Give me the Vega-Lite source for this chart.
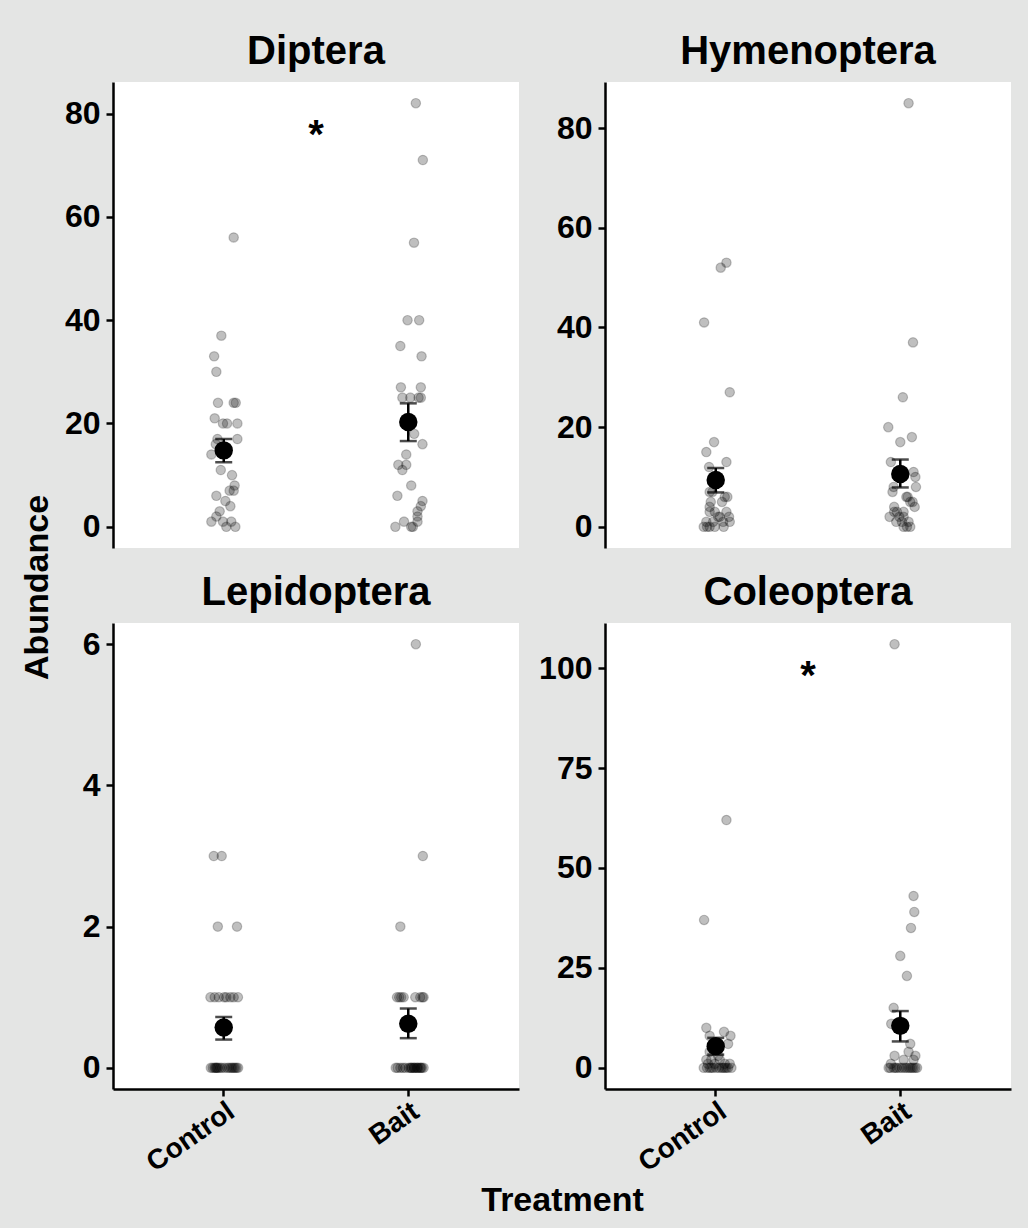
{
"$schema": "https://vega.github.io/schema/vega-lite/v6.json",
"background": "#e4e5e4",
"padding": {"left": 21, "top": 32, "right": 18, "bottom": 16},
"title": {"text": "Abundance", "orient": "left", "anchor": "middle", "fontSize": 34, "offset": 9, "dx": 37},
"datasets": {
"obs": [
{"taxon":"Diptera","treatment":"Control","abundance":56,"jitter":0.054},
{"taxon":"Diptera","treatment":"Control","abundance":37,"jitter":-0.013},
{"taxon":"Diptera","treatment":"Control","abundance":33,"jitter":-0.052},
{"taxon":"Diptera","treatment":"Control","abundance":30,"jitter":-0.040},
{"taxon":"Diptera","treatment":"Control","abundance":24,"jitter":-0.031},
{"taxon":"Diptera","treatment":"Control","abundance":24,"jitter":0.054},
{"taxon":"Diptera","treatment":"Control","abundance":24,"jitter":0.065},
{"taxon":"Diptera","treatment":"Control","abundance":21,"jitter":-0.049},
{"taxon":"Diptera","treatment":"Control","abundance":20,"jitter":-0.004},
{"taxon":"Diptera","treatment":"Control","abundance":20,"jitter":0.018},
{"taxon":"Diptera","treatment":"Control","abundance":20,"jitter":0.074},
{"taxon":"Diptera","treatment":"Control","abundance":17,"jitter":0.074},
{"taxon":"Diptera","treatment":"Control","abundance":17,"jitter":-0.034},
{"taxon":"Diptera","treatment":"Control","abundance":16,"jitter":-0.043},
{"taxon":"Diptera","treatment":"Control","abundance":14,"jitter":-0.067},
{"taxon":"Diptera","treatment":"Control","abundance":11,"jitter":-0.016},
{"taxon":"Diptera","treatment":"Control","abundance":10,"jitter":0.045},
{"taxon":"Diptera","treatment":"Control","abundance":8,"jitter":0.059},
{"taxon":"Diptera","treatment":"Control","abundance":7,"jitter":0.032},
{"taxon":"Diptera","treatment":"Control","abundance":7,"jitter":0.054},
{"taxon":"Diptera","treatment":"Control","abundance":6,"jitter":-0.040},
{"taxon":"Diptera","treatment":"Control","abundance":5,"jitter":0.009},
{"taxon":"Diptera","treatment":"Control","abundance":4,"jitter":0.036},
{"taxon":"Diptera","treatment":"Control","abundance":3,"jitter":-0.022},
{"taxon":"Diptera","treatment":"Control","abundance":2,"jitter":-0.040},
{"taxon":"Diptera","treatment":"Control","abundance":1,"jitter":-0.067},
{"taxon":"Diptera","treatment":"Control","abundance":1,"jitter":-0.004},
{"taxon":"Diptera","treatment":"Control","abundance":1,"jitter":0.041},
{"taxon":"Diptera","treatment":"Control","abundance":0,"jitter":0.014},
{"taxon":"Diptera","treatment":"Control","abundance":0,"jitter":0.063},
{"taxon":"Diptera","treatment":"Bait","abundance":82,"jitter":0.041},
{"taxon":"Diptera","treatment":"Bait","abundance":71,"jitter":0.079},
{"taxon":"Diptera","treatment":"Bait","abundance":55,"jitter":0.031},
{"taxon":"Diptera","treatment":"Bait","abundance":40,"jitter":-0.004},
{"taxon":"Diptera","treatment":"Bait","abundance":40,"jitter":0.059},
{"taxon":"Diptera","treatment":"Bait","abundance":35,"jitter":-0.043},
{"taxon":"Diptera","treatment":"Bait","abundance":33,"jitter":0.072},
{"taxon":"Diptera","treatment":"Bait","abundance":27,"jitter":-0.040},
{"taxon":"Diptera","treatment":"Bait","abundance":27,"jitter":0.068},
{"taxon":"Diptera","treatment":"Bait","abundance":25,"jitter":-0.032},
{"taxon":"Diptera","treatment":"Bait","abundance":25,"jitter":0.011},
{"taxon":"Diptera","treatment":"Bait","abundance":25,"jitter":0.056},
{"taxon":"Diptera","treatment":"Bait","abundance":25,"jitter":0.068},
{"taxon":"Diptera","treatment":"Bait","abundance":18,"jitter":0.032},
{"taxon":"Diptera","treatment":"Bait","abundance":16,"jitter":0.077},
{"taxon":"Diptera","treatment":"Bait","abundance":14,"jitter":-0.011},
{"taxon":"Diptera","treatment":"Bait","abundance":12,"jitter":-0.054},
{"taxon":"Diptera","treatment":"Bait","abundance":12,"jitter":-0.011},
{"taxon":"Diptera","treatment":"Bait","abundance":11,"jitter":-0.032},
{"taxon":"Diptera","treatment":"Bait","abundance":8,"jitter":0.016},
{"taxon":"Diptera","treatment":"Bait","abundance":6,"jitter":-0.059},
{"taxon":"Diptera","treatment":"Bait","abundance":5,"jitter":0.077},
{"taxon":"Diptera","treatment":"Bait","abundance":4,"jitter":0.068},
{"taxon":"Diptera","treatment":"Bait","abundance":3,"jitter":0.050},
{"taxon":"Diptera","treatment":"Bait","abundance":2,"jitter":0.050},
{"taxon":"Diptera","treatment":"Bait","abundance":1,"jitter":-0.023},
{"taxon":"Diptera","treatment":"Bait","abundance":1,"jitter":0.050},
{"taxon":"Diptera","treatment":"Bait","abundance":0,"jitter":-0.070},
{"taxon":"Diptera","treatment":"Bait","abundance":0,"jitter":0.016},
{"taxon":"Diptera","treatment":"Bait","abundance":0,"jitter":0.025},
{"taxon":"Hymenoptera","treatment":"Control","abundance":53,"jitter":0.058},
{"taxon":"Hymenoptera","treatment":"Control","abundance":52,"jitter":0.027},
{"taxon":"Hymenoptera","treatment":"Control","abundance":41,"jitter":-0.063},
{"taxon":"Hymenoptera","treatment":"Control","abundance":27,"jitter":0.076},
{"taxon":"Hymenoptera","treatment":"Control","abundance":17,"jitter":-0.009},
{"taxon":"Hymenoptera","treatment":"Control","abundance":15,"jitter":-0.051},
{"taxon":"Hymenoptera","treatment":"Control","abundance":13,"jitter":0.058},
{"taxon":"Hymenoptera","treatment":"Control","abundance":12,"jitter":-0.036},
{"taxon":"Hymenoptera","treatment":"Control","abundance":7,"jitter":-0.033},
{"taxon":"Hymenoptera","treatment":"Control","abundance":7,"jitter":-0.018},
{"taxon":"Hymenoptera","treatment":"Control","abundance":6,"jitter":0.049},
{"taxon":"Hymenoptera","treatment":"Control","abundance":6,"jitter":0.063},
{"taxon":"Hymenoptera","treatment":"Control","abundance":5,"jitter":0.034},
{"taxon":"Hymenoptera","treatment":"Control","abundance":5,"jitter":-0.027},
{"taxon":"Hymenoptera","treatment":"Control","abundance":4,"jitter":-0.033},
{"taxon":"Hymenoptera","treatment":"Control","abundance":3,"jitter":-0.033},
{"taxon":"Hymenoptera","treatment":"Control","abundance":3,"jitter":-0.005},
{"taxon":"Hymenoptera","treatment":"Control","abundance":3,"jitter":0.058},
{"taxon":"Hymenoptera","treatment":"Control","abundance":2,"jitter":0.013},
{"taxon":"Hymenoptera","treatment":"Control","abundance":2,"jitter":0.072},
{"taxon":"Hymenoptera","treatment":"Control","abundance":2,"jitter":0.022},
{"taxon":"Hymenoptera","treatment":"Control","abundance":1,"jitter":-0.051},
{"taxon":"Hymenoptera","treatment":"Control","abundance":1,"jitter":0.076},
{"taxon":"Hymenoptera","treatment":"Control","abundance":1,"jitter":-0.014},
{"taxon":"Hymenoptera","treatment":"Control","abundance":1,"jitter":0.040},
{"taxon":"Hymenoptera","treatment":"Control","abundance":0,"jitter":-0.065},
{"taxon":"Hymenoptera","treatment":"Control","abundance":0,"jitter":-0.033},
{"taxon":"Hymenoptera","treatment":"Control","abundance":0,"jitter":-0.005},
{"taxon":"Hymenoptera","treatment":"Control","abundance":0,"jitter":0.043},
{"taxon":"Hymenoptera","treatment":"Control","abundance":0,"jitter":-0.047},
{"taxon":"Hymenoptera","treatment":"Bait","abundance":85,"jitter":0.045},
{"taxon":"Hymenoptera","treatment":"Bait","abundance":37,"jitter":0.069},
{"taxon":"Hymenoptera","treatment":"Bait","abundance":26,"jitter":0.014},
{"taxon":"Hymenoptera","treatment":"Bait","abundance":20,"jitter":-0.065},
{"taxon":"Hymenoptera","treatment":"Bait","abundance":18,"jitter":0.063},
{"taxon":"Hymenoptera","treatment":"Bait","abundance":17,"jitter":0.000},
{"taxon":"Hymenoptera","treatment":"Bait","abundance":13,"jitter":-0.051},
{"taxon":"Hymenoptera","treatment":"Bait","abundance":11,"jitter":0.072},
{"taxon":"Hymenoptera","treatment":"Bait","abundance":10,"jitter":0.082},
{"taxon":"Hymenoptera","treatment":"Bait","abundance":8,"jitter":-0.036},
{"taxon":"Hymenoptera","treatment":"Bait","abundance":8,"jitter":0.085},
{"taxon":"Hymenoptera","treatment":"Bait","abundance":7,"jitter":-0.042},
{"taxon":"Hymenoptera","treatment":"Bait","abundance":6,"jitter":0.033},
{"taxon":"Hymenoptera","treatment":"Bait","abundance":6,"jitter":0.040},
{"taxon":"Hymenoptera","treatment":"Bait","abundance":5,"jitter":0.054},
{"taxon":"Hymenoptera","treatment":"Bait","abundance":5,"jitter":0.067},
{"taxon":"Hymenoptera","treatment":"Bait","abundance":4,"jitter":0.078},
{"taxon":"Hymenoptera","treatment":"Bait","abundance":4,"jitter":-0.033},
{"taxon":"Hymenoptera","treatment":"Bait","abundance":3,"jitter":-0.018},
{"taxon":"Hymenoptera","treatment":"Bait","abundance":3,"jitter":0.018},
{"taxon":"Hymenoptera","treatment":"Bait","abundance":3,"jitter":-0.033},
{"taxon":"Hymenoptera","treatment":"Bait","abundance":2,"jitter":-0.058},
{"taxon":"Hymenoptera","treatment":"Bait","abundance":2,"jitter":0.018},
{"taxon":"Hymenoptera","treatment":"Bait","abundance":2,"jitter":-0.005},
{"taxon":"Hymenoptera","treatment":"Bait","abundance":1,"jitter":-0.022},
{"taxon":"Hymenoptera","treatment":"Bait","abundance":1,"jitter":0.045},
{"taxon":"Hymenoptera","treatment":"Bait","abundance":1,"jitter":0.009},
{"taxon":"Hymenoptera","treatment":"Bait","abundance":0,"jitter":0.018},
{"taxon":"Hymenoptera","treatment":"Bait","abundance":0,"jitter":0.054},
{"taxon":"Hymenoptera","treatment":"Bait","abundance":0,"jitter":0.036},
{"taxon":"Lepidoptera","treatment":"Control","abundance":3,"jitter":-0.054},
{"taxon":"Lepidoptera","treatment":"Control","abundance":3,"jitter":-0.011},
{"taxon":"Lepidoptera","treatment":"Control","abundance":2,"jitter":-0.032},
{"taxon":"Lepidoptera","treatment":"Control","abundance":2,"jitter":0.072},
{"taxon":"Lepidoptera","treatment":"Control","abundance":1,"jitter":-0.072},
{"taxon":"Lepidoptera","treatment":"Control","abundance":1,"jitter":-0.049},
{"taxon":"Lepidoptera","treatment":"Control","abundance":1,"jitter":-0.027},
{"taxon":"Lepidoptera","treatment":"Control","abundance":1,"jitter":0.002},
{"taxon":"Lepidoptera","treatment":"Control","abundance":1,"jitter":0.014},
{"taxon":"Lepidoptera","treatment":"Control","abundance":1,"jitter":0.036},
{"taxon":"Lepidoptera","treatment":"Control","abundance":1,"jitter":0.054},
{"taxon":"Lepidoptera","treatment":"Control","abundance":1,"jitter":0.077},
{"taxon":"Lepidoptera","treatment":"Control","abundance":0,"jitter":-0.070},
{"taxon":"Lepidoptera","treatment":"Control","abundance":0,"jitter":-0.060},
{"taxon":"Lepidoptera","treatment":"Control","abundance":0,"jitter":-0.050},
{"taxon":"Lepidoptera","treatment":"Control","abundance":0,"jitter":-0.045},
{"taxon":"Lepidoptera","treatment":"Control","abundance":0,"jitter":-0.040},
{"taxon":"Lepidoptera","treatment":"Control","abundance":0,"jitter":-0.036},
{"taxon":"Lepidoptera","treatment":"Control","abundance":0,"jitter":-0.030},
{"taxon":"Lepidoptera","treatment":"Control","abundance":0,"jitter":-0.020},
{"taxon":"Lepidoptera","treatment":"Control","abundance":0,"jitter":-0.010},
{"taxon":"Lepidoptera","treatment":"Control","abundance":0,"jitter":0.005},
{"taxon":"Lepidoptera","treatment":"Control","abundance":0,"jitter":0.020},
{"taxon":"Lepidoptera","treatment":"Control","abundance":0,"jitter":0.030},
{"taxon":"Lepidoptera","treatment":"Control","abundance":0,"jitter":0.040},
{"taxon":"Lepidoptera","treatment":"Control","abundance":0,"jitter":0.047},
{"taxon":"Lepidoptera","treatment":"Control","abundance":0,"jitter":0.055},
{"taxon":"Lepidoptera","treatment":"Control","abundance":0,"jitter":0.062},
{"taxon":"Lepidoptera","treatment":"Control","abundance":0,"jitter":0.070},
{"taxon":"Lepidoptera","treatment":"Control","abundance":0,"jitter":0.078},
{"taxon":"Lepidoptera","treatment":"Bait","abundance":6,"jitter":0.041},
{"taxon":"Lepidoptera","treatment":"Bait","abundance":3,"jitter":0.079},
{"taxon":"Lepidoptera","treatment":"Bait","abundance":2,"jitter":-0.043},
{"taxon":"Lepidoptera","treatment":"Bait","abundance":1,"jitter":-0.061},
{"taxon":"Lepidoptera","treatment":"Bait","abundance":1,"jitter":-0.049},
{"taxon":"Lepidoptera","treatment":"Bait","abundance":1,"jitter":-0.038},
{"taxon":"Lepidoptera","treatment":"Bait","abundance":1,"jitter":-0.025},
{"taxon":"Lepidoptera","treatment":"Bait","abundance":1,"jitter":0.038},
{"taxon":"Lepidoptera","treatment":"Bait","abundance":1,"jitter":0.065},
{"taxon":"Lepidoptera","treatment":"Bait","abundance":1,"jitter":0.077},
{"taxon":"Lepidoptera","treatment":"Bait","abundance":1,"jitter":0.083},
{"taxon":"Lepidoptera","treatment":"Bait","abundance":0,"jitter":-0.068},
{"taxon":"Lepidoptera","treatment":"Bait","abundance":0,"jitter":-0.058},
{"taxon":"Lepidoptera","treatment":"Bait","abundance":0,"jitter":-0.043},
{"taxon":"Lepidoptera","treatment":"Bait","abundance":0,"jitter":-0.029},
{"taxon":"Lepidoptera","treatment":"Bait","abundance":0,"jitter":-0.016},
{"taxon":"Lepidoptera","treatment":"Bait","abundance":0,"jitter":0.002},
{"taxon":"Lepidoptera","treatment":"Bait","abundance":0,"jitter":0.011},
{"taxon":"Lepidoptera","treatment":"Bait","abundance":0,"jitter":0.020},
{"taxon":"Lepidoptera","treatment":"Bait","abundance":0,"jitter":0.029},
{"taxon":"Lepidoptera","treatment":"Bait","abundance":0,"jitter":0.038},
{"taxon":"Lepidoptera","treatment":"Bait","abundance":0,"jitter":0.047},
{"taxon":"Lepidoptera","treatment":"Bait","abundance":0,"jitter":0.056},
{"taxon":"Lepidoptera","treatment":"Bait","abundance":0,"jitter":0.065},
{"taxon":"Lepidoptera","treatment":"Bait","abundance":0,"jitter":0.074},
{"taxon":"Lepidoptera","treatment":"Bait","abundance":0,"jitter":0.083},
{"taxon":"Lepidoptera","treatment":"Bait","abundance":0,"jitter":0.016},
{"taxon":"Lepidoptera","treatment":"Bait","abundance":0,"jitter":0.032},
{"taxon":"Lepidoptera","treatment":"Bait","abundance":0,"jitter":0.050},
{"taxon":"Lepidoptera","treatment":"Bait","abundance":0,"jitter":0.068},
{"taxon":"Coleoptera","treatment":"Control","abundance":62,"jitter":0.058},
{"taxon":"Coleoptera","treatment":"Control","abundance":37,"jitter":-0.063},
{"taxon":"Coleoptera","treatment":"Control","abundance":10,"jitter":-0.051},
{"taxon":"Coleoptera","treatment":"Control","abundance":9,"jitter":0.045},
{"taxon":"Coleoptera","treatment":"Control","abundance":8,"jitter":0.080},
{"taxon":"Coleoptera","treatment":"Control","abundance":8,"jitter":-0.033},
{"taxon":"Coleoptera","treatment":"Control","abundance":6,"jitter":0.067},
{"taxon":"Coleoptera","treatment":"Control","abundance":4,"jitter":-0.033},
{"taxon":"Coleoptera","treatment":"Control","abundance":3,"jitter":0.013},
{"taxon":"Coleoptera","treatment":"Control","abundance":2,"jitter":-0.051},
{"taxon":"Coleoptera","treatment":"Control","abundance":2,"jitter":-0.024},
{"taxon":"Coleoptera","treatment":"Control","abundance":2,"jitter":0.022},
{"taxon":"Coleoptera","treatment":"Control","abundance":1,"jitter":0.076},
{"taxon":"Coleoptera","treatment":"Control","abundance":1,"jitter":-0.005},
{"taxon":"Coleoptera","treatment":"Control","abundance":1,"jitter":-0.042},
{"taxon":"Coleoptera","treatment":"Control","abundance":1,"jitter":0.049},
{"taxon":"Coleoptera","treatment":"Control","abundance":0,"jitter":-0.065},
{"taxon":"Coleoptera","treatment":"Control","abundance":0,"jitter":-0.047},
{"taxon":"Coleoptera","treatment":"Control","abundance":0,"jitter":-0.033},
{"taxon":"Coleoptera","treatment":"Control","abundance":0,"jitter":-0.014},
{"taxon":"Coleoptera","treatment":"Control","abundance":0,"jitter":0.004},
{"taxon":"Coleoptera","treatment":"Control","abundance":0,"jitter":0.018},
{"taxon":"Coleoptera","treatment":"Control","abundance":0,"jitter":0.031},
{"taxon":"Coleoptera","treatment":"Control","abundance":0,"jitter":0.049},
{"taxon":"Coleoptera","treatment":"Control","abundance":0,"jitter":0.067},
{"taxon":"Coleoptera","treatment":"Control","abundance":0,"jitter":0.085},
{"taxon":"Coleoptera","treatment":"Control","abundance":0,"jitter":-0.024},
{"taxon":"Coleoptera","treatment":"Control","abundance":0,"jitter":0.040},
{"taxon":"Coleoptera","treatment":"Control","abundance":0,"jitter":0.058},
{"taxon":"Coleoptera","treatment":"Bait","abundance":106,"jitter":-0.031},
{"taxon":"Coleoptera","treatment":"Bait","abundance":43,"jitter":0.072},
{"taxon":"Coleoptera","treatment":"Bait","abundance":39,"jitter":0.076},
{"taxon":"Coleoptera","treatment":"Bait","abundance":35,"jitter":0.058},
{"taxon":"Coleoptera","treatment":"Bait","abundance":28,"jitter":0.000},
{"taxon":"Coleoptera","treatment":"Bait","abundance":23,"jitter":0.036},
{"taxon":"Coleoptera","treatment":"Bait","abundance":15,"jitter":-0.036},
{"taxon":"Coleoptera","treatment":"Bait","abundance":11,"jitter":-0.049},
{"taxon":"Coleoptera","treatment":"Bait","abundance":6,"jitter":0.054},
{"taxon":"Coleoptera","treatment":"Bait","abundance":4,"jitter":0.045},
{"taxon":"Coleoptera","treatment":"Bait","abundance":3,"jitter":-0.031},
{"taxon":"Coleoptera","treatment":"Bait","abundance":3,"jitter":0.082},
{"taxon":"Coleoptera","treatment":"Bait","abundance":2,"jitter":0.018},
{"taxon":"Coleoptera","treatment":"Bait","abundance":2,"jitter":0.072},
{"taxon":"Coleoptera","treatment":"Bait","abundance":1,"jitter":-0.051},
{"taxon":"Coleoptera","treatment":"Bait","abundance":0,"jitter":-0.063},
{"taxon":"Coleoptera","treatment":"Bait","abundance":0,"jitter":-0.036},
{"taxon":"Coleoptera","treatment":"Bait","abundance":0,"jitter":-0.018},
{"taxon":"Coleoptera","treatment":"Bait","abundance":0,"jitter":-0.004},
{"taxon":"Coleoptera","treatment":"Bait","abundance":0,"jitter":0.009},
{"taxon":"Coleoptera","treatment":"Bait","abundance":0,"jitter":0.022},
{"taxon":"Coleoptera","treatment":"Bait","abundance":0,"jitter":0.033},
{"taxon":"Coleoptera","treatment":"Bait","abundance":0,"jitter":0.045},
{"taxon":"Coleoptera","treatment":"Bait","abundance":0,"jitter":0.063},
{"taxon":"Coleoptera","treatment":"Bait","abundance":0,"jitter":0.082},
{"taxon":"Coleoptera","treatment":"Bait","abundance":0,"jitter":-0.054},
{"taxon":"Coleoptera","treatment":"Bait","abundance":0,"jitter":-0.027},
{"taxon":"Coleoptera","treatment":"Bait","abundance":0,"jitter":0.054},
{"taxon":"Coleoptera","treatment":"Bait","abundance":0,"jitter":0.072},
{"taxon":"Coleoptera","treatment":"Bait","abundance":0,"jitter":0.091}
],
"summ": [
{"taxon":"Diptera","treatment":"Control","mean":14.8,"lo":12.5,"hi":17.0},
{"taxon":"Diptera","treatment":"Bait","mean":20.3,"lo":16.6,"hi":23.9},
{"taxon":"Hymenoptera","treatment":"Control","mean":9.4,"lo":6.9,"hi":11.8},
{"taxon":"Hymenoptera","treatment":"Bait","mean":10.6,"lo":7.9,"hi":13.5},
{"taxon":"Lepidoptera","treatment":"Control","mean":0.57,"lo":0.40,"hi":0.72},
{"taxon":"Lepidoptera","treatment":"Bait","mean":0.625,"lo":0.42,"hi":0.84},
{"taxon":"Coleoptera","treatment":"Control","mean":5.4,"lo":3.3,"hi":7.5},
{"taxon":"Coleoptera","treatment":"Bait","mean":10.5,"lo":6.6,"hi":14.2}
],
"sig": [
{"taxon":"Diptera","treatment":"Control","y":77,"offset":0.5,"label":"*"},
{"taxon":"Coleoptera","treatment":"Control","y":99.5,"offset":0.5,"label":"*"}
]
},
"concat": [
{
"title": "Diptera",
"width": 406, "height": 466,
"layer": [
{"data": {"name": "obs"}, "transform": [{"filter": "datum.taxon === 'Diptera'"}],
 "mark": {"type": "point", "filled": true, "fill": "#000", "fillOpacity": 0.25, "stroke": "#000", "strokeOpacity": 0.22, "strokeWidth": 1.2, "size": 88},
 "encoding": {
  "x": {"field": "treatment", "type": "nominal", "sort": ["Control", "Bait"], "scale": {"type": "band", "paddingInner": 1, "paddingOuter": 0.6}, "axis": null},
  "xOffset": {"field": "jitter", "type": "quantitative", "scale": {"domain": [-1, 1], "range": [-184.5, 184.5]}},
  "y": {"field": "abundance", "type": "quantitative", "scale": {"domain": [-4.1, 86.1], "nice": false, "zero": false}, "axis": {"values": [0, 20, 40, 60, 80], "format": "d", "title": null}}
 }},
{"data": {"name": "summ"}, "transform": [{"filter": "datum.taxon === 'Diptera'"}],
 "mark": {"type": "rule", "color": "#000", "strokeWidth": 2.5},
 "encoding": {"x": {"field": "treatment", "type": "nominal", "sort": ["Control", "Bait"]}, "y": {"field": "lo", "type": "quantitative"}, "y2": {"field": "hi"}}},
{"data": {"name": "summ"}, "transform": [{"filter": "datum.taxon === 'Diptera'"}],
 "mark": {"type": "tick", "color": "#000", "thickness": 2.5, "size": 17},
 "encoding": {"x": {"field": "treatment", "type": "nominal", "sort": ["Control", "Bait"]}, "y": {"field": "lo", "type": "quantitative"}}},
{"data": {"name": "summ"}, "transform": [{"filter": "datum.taxon === 'Diptera'"}],
 "mark": {"type": "tick", "color": "#000", "thickness": 2.5, "size": 17},
 "encoding": {"x": {"field": "treatment", "type": "nominal", "sort": ["Control", "Bait"]}, "y": {"field": "hi", "type": "quantitative"}}},
{"data": {"name": "summ"}, "transform": [{"filter": "datum.taxon === 'Diptera'"}],
 "mark": {"type": "point", "filled": true, "color": "#000", "opacity": 1, "size": 340},
 "encoding": {"x": {"field": "treatment", "type": "nominal", "sort": ["Control", "Bait"]}, "y": {"field": "mean", "type": "quantitative"}}},
{"data": {"name": "sig"}, "transform": [{"filter": "datum.taxon === 'Diptera'"}],
 "mark": {"type": "text", "font": "Liberation Sans", "fontWeight": "bold", "fontSize": 40, "color": "#000", "baseline": "middle", "dy": 7},
 "encoding": {"x": {"field": "treatment", "type": "nominal", "sort": ["Control", "Bait"]}, "xOffset": {"field": "offset", "type": "quantitative"}, "y": {"field": "y", "type": "quantitative"}, "text": {"field": "label"}}}
]
},
{
"title": "Hymenoptera",
"width": 406, "height": 466,
"layer": [
{"data": {"name": "obs"}, "transform": [{"filter": "datum.taxon === 'Hymenoptera'"}],
 "mark": {"type": "point", "filled": true, "fill": "#000", "fillOpacity": 0.25, "stroke": "#000", "strokeOpacity": 0.22, "strokeWidth": 1.2, "size": 88},
 "encoding": {
  "x": {"field": "treatment", "type": "nominal", "sort": ["Control", "Bait"], "scale": {"type": "band", "paddingInner": 1, "paddingOuter": 0.6}, "axis": null},
  "xOffset": {"field": "jitter", "type": "quantitative", "scale": {"domain": [-1, 1], "range": [-184.5, 184.5]}},
  "y": {"field": "abundance", "type": "quantitative", "scale": {"domain": [-4.25, 89.25], "nice": false, "zero": false}, "axis": {"values": [0, 20, 40, 60, 80], "format": "d", "title": null}}
 }},
{"data": {"name": "summ"}, "transform": [{"filter": "datum.taxon === 'Hymenoptera'"}],
 "mark": {"type": "rule", "color": "#000", "strokeWidth": 2.5},
 "encoding": {"x": {"field": "treatment", "type": "nominal", "sort": ["Control", "Bait"]}, "y": {"field": "lo", "type": "quantitative"}, "y2": {"field": "hi"}}},
{"data": {"name": "summ"}, "transform": [{"filter": "datum.taxon === 'Hymenoptera'"}],
 "mark": {"type": "tick", "color": "#000", "thickness": 2.5, "size": 17},
 "encoding": {"x": {"field": "treatment", "type": "nominal", "sort": ["Control", "Bait"]}, "y": {"field": "lo", "type": "quantitative"}}},
{"data": {"name": "summ"}, "transform": [{"filter": "datum.taxon === 'Hymenoptera'"}],
 "mark": {"type": "tick", "color": "#000", "thickness": 2.5, "size": 17},
 "encoding": {"x": {"field": "treatment", "type": "nominal", "sort": ["Control", "Bait"]}, "y": {"field": "hi", "type": "quantitative"}}},
{"data": {"name": "summ"}, "transform": [{"filter": "datum.taxon === 'Hymenoptera'"}],
 "mark": {"type": "point", "filled": true, "color": "#000", "opacity": 1, "size": 340},
 "encoding": {"x": {"field": "treatment", "type": "nominal", "sort": ["Control", "Bait"]}, "y": {"field": "mean", "type": "quantitative"}}}
]
},
{
"title": "Lepidoptera",
"width": 406, "height": 466,
"layer": [
{"data": {"name": "obs"}, "transform": [{"filter": "datum.taxon === 'Lepidoptera'"}],
 "mark": {"type": "point", "filled": true, "fill": "#000", "fillOpacity": 0.25, "stroke": "#000", "strokeOpacity": 0.22, "strokeWidth": 1.2, "size": 88},
 "encoding": {
  "x": {"field": "treatment", "type": "nominal", "sort": ["Control", "Bait"], "scale": {"type": "band", "paddingInner": 1, "paddingOuter": 0.6}, "axis": {"labelAngle": -35, "labelAlign": "right", "labelBaseline": "top", "labelFontSize": 28, "labelPadding": 1, "title": "Treatment", "titleX": 449, "titlePadding": 6}},
  "xOffset": {"field": "jitter", "type": "quantitative", "scale": {"domain": [-1, 1], "range": [-184.5, 184.5]}},
  "y": {"field": "abundance", "type": "quantitative", "scale": {"domain": [-0.3, 6.3], "nice": false, "zero": false}, "axis": {"values": [0, 2, 4, 6], "format": "d", "title": null}}
 }},
{"data": {"name": "summ"}, "transform": [{"filter": "datum.taxon === 'Lepidoptera'"}],
 "mark": {"type": "rule", "color": "#000", "strokeWidth": 2.5},
 "encoding": {"x": {"field": "treatment", "type": "nominal", "sort": ["Control", "Bait"]}, "y": {"field": "lo", "type": "quantitative"}, "y2": {"field": "hi"}}},
{"data": {"name": "summ"}, "transform": [{"filter": "datum.taxon === 'Lepidoptera'"}],
 "mark": {"type": "tick", "color": "#000", "thickness": 2.5, "size": 17},
 "encoding": {"x": {"field": "treatment", "type": "nominal", "sort": ["Control", "Bait"]}, "y": {"field": "lo", "type": "quantitative"}}},
{"data": {"name": "summ"}, "transform": [{"filter": "datum.taxon === 'Lepidoptera'"}],
 "mark": {"type": "tick", "color": "#000", "thickness": 2.5, "size": 17},
 "encoding": {"x": {"field": "treatment", "type": "nominal", "sort": ["Control", "Bait"]}, "y": {"field": "hi", "type": "quantitative"}}},
{"data": {"name": "summ"}, "transform": [{"filter": "datum.taxon === 'Lepidoptera'"}],
 "mark": {"type": "point", "filled": true, "color": "#000", "opacity": 1, "size": 340},
 "encoding": {"x": {"field": "treatment", "type": "nominal", "sort": ["Control", "Bait"]}, "y": {"field": "mean", "type": "quantitative"}}}
]
},
{
"title": "Coleoptera",
"width": 406, "height": 466,
"layer": [
{"data": {"name": "obs"}, "transform": [{"filter": "datum.taxon === 'Coleoptera'"}],
 "mark": {"type": "point", "filled": true, "fill": "#000", "fillOpacity": 0.25, "stroke": "#000", "strokeOpacity": 0.22, "strokeWidth": 1.2, "size": 88},
 "encoding": {
  "x": {"field": "treatment", "type": "nominal", "sort": ["Control", "Bait"], "scale": {"type": "band", "paddingInner": 1, "paddingOuter": 0.6}, "axis": {"labelAngle": -35, "labelAlign": "right", "labelBaseline": "top", "labelFontSize": 28, "labelPadding": 1, "title": null}},
  "xOffset": {"field": "jitter", "type": "quantitative", "scale": {"domain": [-1, 1], "range": [-184.5, 184.5]}},
  "y": {"field": "abundance", "type": "quantitative", "scale": {"domain": [-5.3, 111.3], "nice": false, "zero": false}, "axis": {"values": [0, 25, 50, 75, 100], "format": "d", "title": null}}
 }},
{"data": {"name": "summ"}, "transform": [{"filter": "datum.taxon === 'Coleoptera'"}],
 "mark": {"type": "rule", "color": "#000", "strokeWidth": 2.5},
 "encoding": {"x": {"field": "treatment", "type": "nominal", "sort": ["Control", "Bait"]}, "y": {"field": "lo", "type": "quantitative"}, "y2": {"field": "hi"}}},
{"data": {"name": "summ"}, "transform": [{"filter": "datum.taxon === 'Coleoptera'"}],
 "mark": {"type": "tick", "color": "#000", "thickness": 2.5, "size": 17},
 "encoding": {"x": {"field": "treatment", "type": "nominal", "sort": ["Control", "Bait"]}, "y": {"field": "lo", "type": "quantitative"}}},
{"data": {"name": "summ"}, "transform": [{"filter": "datum.taxon === 'Coleoptera'"}],
 "mark": {"type": "tick", "color": "#000", "thickness": 2.5, "size": 17},
 "encoding": {"x": {"field": "treatment", "type": "nominal", "sort": ["Control", "Bait"]}, "y": {"field": "hi", "type": "quantitative"}}},
{"data": {"name": "summ"}, "transform": [{"filter": "datum.taxon === 'Coleoptera'"}],
 "mark": {"type": "point", "filled": true, "color": "#000", "opacity": 1, "size": 340},
 "encoding": {"x": {"field": "treatment", "type": "nominal", "sort": ["Control", "Bait"]}, "y": {"field": "mean", "type": "quantitative"}}},
{"data": {"name": "sig"}, "transform": [{"filter": "datum.taxon === 'Coleoptera'"}],
 "mark": {"type": "text", "font": "Liberation Sans", "fontWeight": "bold", "fontSize": 40, "color": "#000", "baseline": "middle", "dy": 7},
 "encoding": {"x": {"field": "treatment", "type": "nominal", "sort": ["Control", "Bait"]}, "xOffset": {"field": "offset", "type": "quantitative"}, "y": {"field": "y", "type": "quantitative"}, "text": {"field": "label"}}}
]
}
],
"columns": 2,
"spacing": {"row": 75, "column": 86},
"bounds": "flush",
"config": {
 "font": "Liberation Sans",
 "view": {"stroke": null, "fill": "#ffffff"},
 "axis": {"grid": false, "domainColor": "#000", "domainWidth": 2.5, "tickColor": "#000", "tickWidth": 2.5, "tickSize": 7, "labelFont": "Liberation Sans", "labelFontSize": 32, "labelFontWeight": "bold", "labelColor": "#000", "labelPadding": 6, "titleFont": "Liberation Sans", "titleFontWeight": "bold", "titleColor": "#000", "titleFontSize": 34},
 "title": {"font": "Liberation Sans", "fontSize": 40, "fontWeight": "bold", "color": "#000", "offset": 10}
}
}
